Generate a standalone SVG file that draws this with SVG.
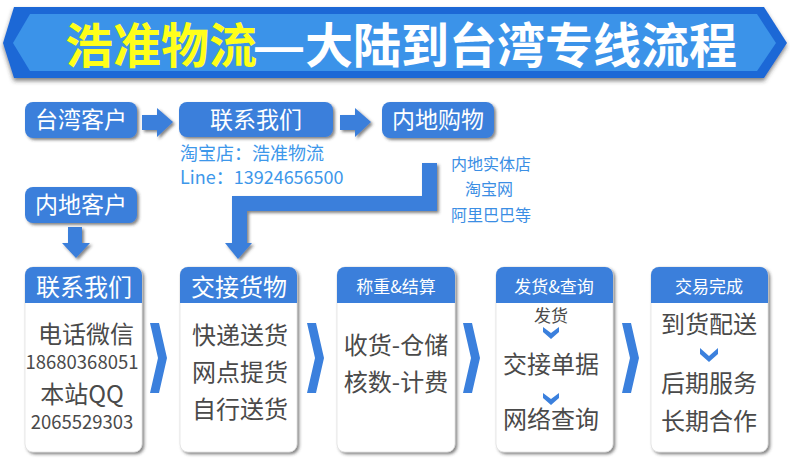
<svg xmlns="http://www.w3.org/2000/svg" width="790" height="475" viewBox="0 0 790 475">
<defs>
<filter id="sh" x="-10%" y="-10%" width="125%" height="130%">
<feDropShadow dx="2" dy="2" stdDeviation="1.5" flood-color="#333" flood-opacity="0.6"/>
</filter>
<filter id="shb" x="-5%" y="-10%" width="110%" height="140%">
<feDropShadow dx="0" dy="3" stdDeviation="2" flood-color="#333" flood-opacity="0.6"/>
</filter>
<style>
text{font-family:'Noto Sans CJK SC','Microsoft YaHei',sans-serif}
.btn{fill:#3b7fdb}
.wt{fill:#fff;text-anchor:middle}
.b24{font-size:23px}
.h24{font-size:24px}
.h17{font-size:17px}
.card{fill:#fff;stroke:#d8d8d8;stroke-width:0.6}
.hdr{fill:#3b7fdb}
.body{fill:#4a4a4a;font-size:24px;text-anchor:middle}
.num{fill:#4a4a4a;font-size:18.5px;text-anchor:middle}
.sm{fill:#4a4a4a;font-size:17px;text-anchor:middle}
.lb{fill:#3d97ea;font-size:18px}
.rb{fill:#3b8ee4;font-size:16px;text-anchor:middle}
.arr{fill:#3b7fdb}
.chev{fill:#3b80dd}
</style>
</defs>
<rect width="790" height="475" fill="#fff"/>

<g id="title">
<polygon points="14,7 764,7 787,43 764,78 14,78 3,43" fill="#1d67d6" filter="url(#shb)"/>
<polygon points="30,14 757,14 776,43 757,71 30,71 13,43" fill="#3b93e9"/>
<text y="63" font-size="48" font-weight="bold"><tspan x="65" fill="#ffff1a">浩准物流</tspan><tspan x="255" fill="#fff" font-family="'Liberation Sans',sans-serif">—</tspan><tspan x="305" fill="#fff">大陆到台湾专线流程</tspan></text>
</g>

<g id="connectors">
<polygon class="arr" points="142,115 157,115 157,108 173,122 157,137 157,130 142,130" filter="url(#sh)"/>
<polygon class="arr" points="340,115 355,115 355,108 371,122 355,137 355,130 340,130" filter="url(#sh)"/>
<polygon class="arr" points="68,227 82,227 82,243 90,243 76,258 62,243 68,243" filter="url(#sh)"/>
<polygon class="arr" points="422,163 437,163 437,211 247,211 247,243 252,243 238,259 225,243 232,243 232,196 422,196" filter="url(#sh)"/>
<polygon class="chev" points="150,323 159,323 167,358 159,393 150,393 158,358"/>
<polygon class="chev" points="307,323 316,323 324,358 316,393 307,393 315,358"/>
<polygon class="chev" points="463,323 472,323 480,358 472,393 463,393 471,358"/>
<polygon class="chev" points="622,323 631,323 639,358 631,393 622,393 630,358"/>
</g>

<g id="n-taiwan">
<rect class="btn" x="25" y="102" width="112" height="36" rx="8" filter="url(#sh)"/>
<text class="wt b24" x="81" y="128">台湾客户</text>
</g>
<g id="n-contact-top">
<rect class="btn" x="179" y="102" width="154" height="35" rx="8" filter="url(#sh)"/>
<text class="wt b24" x="256" y="128">联系我们</text>
</g>
<g id="n-shopping">
<rect class="btn" x="382" y="102" width="112" height="36" rx="8" filter="url(#sh)"/>
<text class="wt b24" x="438" y="128">内地购物</text>
</g>
<g id="n-mainland">
<rect class="btn" x="25" y="187" width="112" height="36" rx="8" filter="url(#sh)"/>
<text class="wt b24" x="81" y="213">内地客户</text>
</g>

<g id="contact-info">
<text class="lb" x="180" y="160">淘宝店：浩准物流</text>
<text class="lb" x="180" y="184">Line：13924656500</text>
</g>
<g id="shop-info">
<text class="rb" x="491" y="170">内地实体店</text>
<text class="rb" x="489" y="195">淘宝网</text>
<text class="rb" x="491" y="221">阿里巴巴等</text>
</g>

<g id="card1">
<rect class="card" x="25" y="267" width="117" height="185" rx="8" filter="url(#sh)"/>
<path class="hdr" d="M25,303 V275 a8,8 0 0 1 8,-8 H134 a8,8 0 0 1 8,8 V303 Z"/>
<text class="wt h24" x="84" y="296">联系我们</text>
<text class="body" x="86" y="343">电话微信</text>
<text class="num" x="82" y="369">18680368051</text>
<text class="body" x="82" y="403">本站QQ</text>
<text class="num" x="82" y="429">2065529303</text>
</g>
<g id="card2">
<rect class="card" x="180" y="267" width="117" height="185" rx="8" filter="url(#sh)"/>
<path class="hdr" d="M180,303 V275 a8,8 0 0 1 8,-8 H289 a8,8 0 0 1 8,8 V303 Z"/>
<text class="wt h24" x="239" y="296">交接货物</text>
<text class="body" x="240" y="344">快递送货</text>
<text class="body" x="240" y="381">网点提货</text>
<text class="body" x="240" y="418">自行送货</text>
</g>
<g id="card3">
<rect class="card" x="337" y="267" width="118" height="185" rx="8" filter="url(#sh)"/>
<path class="hdr" d="M337,303 V275 a8,8 0 0 1 8,-8 H447 a8,8 0 0 1 8,8 V303 Z"/>
<text class="wt h17" x="396" y="293">称重&amp;结算</text>
<text class="body" x="396" y="354">收货-仓储</text>
<text class="body" x="396" y="391">核数-计费</text>
</g>
<g id="card4">
<rect class="card" x="496" y="267" width="117" height="185" rx="8" filter="url(#sh)"/>
<path class="hdr" d="M496,303 V275 a8,8 0 0 1 8,-8 H605 a8,8 0 0 1 8,8 V303 Z"/>
<text class="wt h17" x="554" y="293">发货&amp;查询</text>
<text class="sm" x="551" y="322">发货</text>
<polygon class="chev" points="543,327 551,333 559,327 559,332 551,339 543,332"/>
<text class="body" x="551" y="373">交接单据</text>
<polygon class="chev" points="543,393 551,399 559,393 559,398 551,405 543,398"/>
<text class="body" x="551" y="428">网络查询</text>
</g>
<g id="card5">
<rect class="card" x="651" y="267" width="117" height="185" rx="8" filter="url(#sh)"/>
<path class="hdr" d="M651,303 V275 a8,8 0 0 1 8,-8 H760 a8,8 0 0 1 8,8 V303 Z"/>
<text class="wt h17" x="709" y="293">交易完成</text>
<text class="body" x="709" y="333">到货配送</text>
<polygon class="chev" points="700,348 709,356 718,348 718,354 709,362 700,354"/>
<text class="body" x="709" y="392">后期服务</text>
<text class="body" x="709" y="430">长期合作</text>
</g>
</svg>
